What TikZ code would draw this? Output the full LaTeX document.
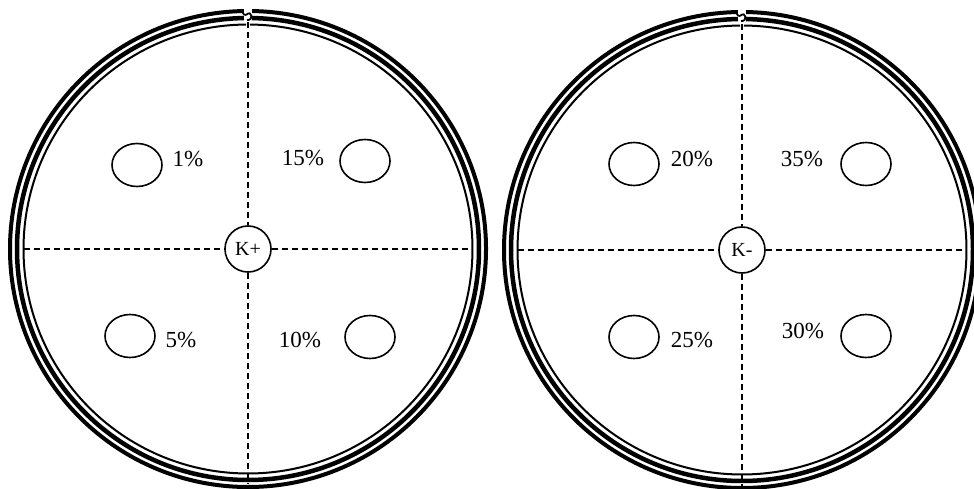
\documentclass[tikz,border=0pt]{standalone}
\usepackage{fontspec}
\setmainfont{Liberation Serif}
\usetikzlibrary{shapes.geometric}

\begin{document}
\begin{tikzpicture}[x=1pt,y=-1pt,
    guide/.style={dash pattern=on 6pt off 4pt, line width=1.3pt},
    well/.style={draw, ellipse, line width=1.6pt, minimum width=50pt, minimum height=43pt, inner sep=0pt},
    ctrl/.style={draw, circle, line width=1.6pt, minimum size=46pt, inner sep=0pt, font=\fontsize{20}{22}\selectfont},
    pct/.style={font=\fontsize{23}{26}\selectfont}]
    \useasboundingbox (0,0) rectangle (974,489);
    % dish rims (outer, middle, inner line), open at the top
    \foreach \cx/\cy in {248/249, 742/250} {
      \draw[line width=4pt] (\cx,\cy) ++(271:238) arc[start angle=271, end angle=629, radius=238];
      \draw[line width=4.5pt] (\cx,\cy) ++(271:231) arc[start angle=271, end angle=629, radius=231];
      \draw[line width=2pt] (\cx,\cy) ++(270.5:224.5) arc[start angle=270.5, end angle=629.5, radius=224.5];
      \draw[line width=1.8pt] (\cx-2,\cy-234) .. controls (\cx+4,\cy-240) and (\cx+6,\cy-228) .. (\cx-1,\cy-229);
      \draw[line width=1.8pt] (\cx-6,\cy-238) .. controls (\cx-4,\cy-234) .. (\cx-2,\cy-234);
    }

    % left dish
    \node[ctrl] (Kp) at (248,249) {K+};
    \coordinate (Ltop) at (248,22);
    \coordinate (Lbot) at (248,484);
    \coordinate (Lleft) at (24,249);
    \coordinate (Lright) at (472,249);
    \draw[guide] (Ltop) -- (Kp);
    \draw[guide] (Kp) -- (Lbot);
    \draw[guide] (Lleft) -- (Kp);
    \draw[guide] (Kp) -- (Lright);
    \node[well] (w1) at (137,165) {};
    \node[pct] (p1) at (188,159) {1\%};
    \node[pct] (p15) at (303,158) {15\%};
    \node[well] (w15) at (365,161) {};
    \node[well] (w5) at (130,336) {};
    \node[pct] (p5) at (181,340) {5\%};
    \node[pct] (p10) at (300,340) {10\%};
    \node[well] (w10) at (370,337) {};

    % right dish
    \node[ctrl] (Km) at (742,250) {K-};
    \coordinate (Rtop) at (742,24);
    \coordinate (Rbot) at (742,486);
    \coordinate (Rleft) at (518,250);
    \coordinate (Rright) at (966,250);
    \draw[guide] (Rtop) -- (Km);
    \draw[guide] (Km) -- (Rbot);
    \draw[guide] (Rleft) -- (Km);
    \draw[guide] (Km) -- (Rright);
    \node[well] (w20) at (634,164) {};
    \node[pct] (p20) at (692,159) {20\%};
    \node[pct] (p35) at (802,159) {35\%};
    \node[well] (w35) at (866,164) {};
    \node[well] (w25) at (634,337) {};
    \node[pct] (p25) at (692,340) {25\%};
    \node[pct] (p30) at (803,331) {30\%};
    \node[well] (w30) at (866,336) {};
\end{tikzpicture}
\end{document}
